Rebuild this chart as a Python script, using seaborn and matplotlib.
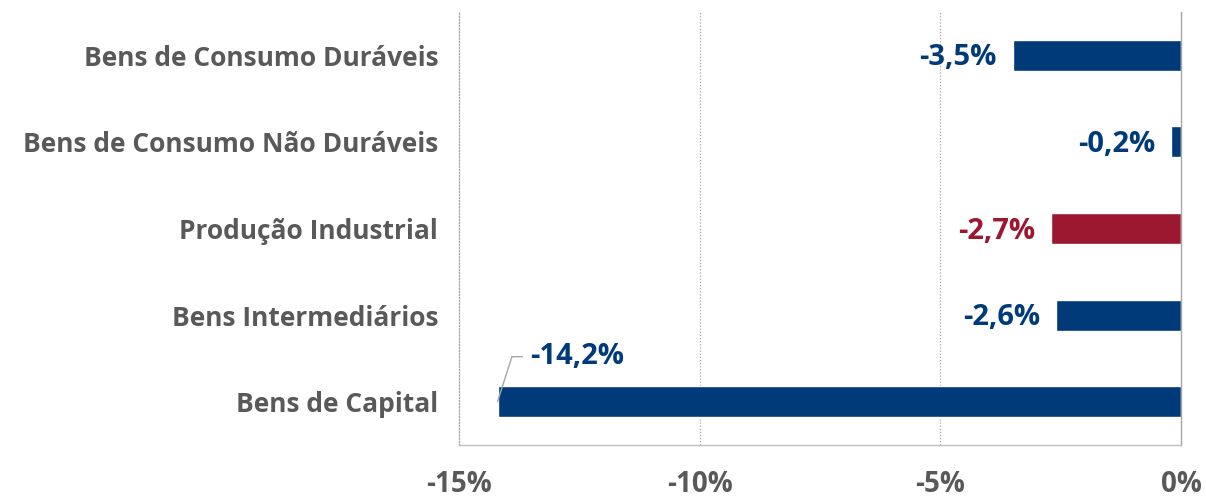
import matplotlib
matplotlib.use("Agg")
import matplotlib.pyplot as plt
import seaborn as sns
import pandas as pd

categories = ["Bens de Consumo Duráveis", "Bens de Consumo Não Duráveis",
              "Produção Industrial", "Bens Intermediários", "Bens de Capital"]
values = [-3.5, -0.2, -2.7, -2.6, -14.2]
value_labels = ["-3,5%", "-0,2%", "-2,7%", "-2,6%", "-14,2%"]
xticks = [-15, -10, -5, 0]
xtick_labels = ["-15%", "-10%", "-5%", "0%"]

BLUE = "#003A78"
RED = "#9B1830"
GREY = "#595959"
colors = [RED if c == "Produção Industrial" else BLUE for c in categories]

sns.set_theme(style="white")
plt.rcParams['font.family'] = ['Open Sans', 'DejaVu Sans']

df = pd.DataFrame({"cat": categories, "val": values})
fig = plt.figure(figsize=(12.06, 4.98), dpi=100)
ax = fig.add_axes([0.3806, 0.1064, 0.9793 - 0.3806, 0.976 - 0.1064])
sns.barplot(data=df, y="cat", x="val", hue="cat", palette=colors, legend=False,
            orient="h", width=0.36, ax=ax, saturation=1)

ax.set_xlim(-15, 0)
ax.set_ylim(4.5, -0.5)
ax.set_xticks(xticks)
ax.set_xticklabels(xtick_labels)
ax.set_xlabel("")
ax.set_ylabel("")
for x in [-10, -5]:
    ax.axvline(x, color="#A6A6A6", lw=0.9, ls=(0, (1, 1.5)), zorder=0)
ax.spines["top"].set_visible(False)
ax.spines["left"].set_color("#A6A6A6")
ax.spines["left"].set_linestyle((0, (1, 1.5)))
ax.spines["left"].set_linewidth(0.9)
ax.spines["right"].set_color("#A6A6A6")
ax.spines["right"].set_linewidth(1.0)
ax.spines["bottom"].set_color("#BFBFBF")
ax.spines["bottom"].set_linewidth(1.0)
ax.tick_params(axis="y", length=0, pad=15, labelsize=19, labelcolor=GREY)
ax.tick_params(axis="x", length=0, pad=18, labelsize=20, labelcolor=GREY)
for t in ax.get_yticklabels() + ax.get_xticklabels():
    t.set_fontweight("bold")

for i, (v, lab, col) in enumerate(zip(values, value_labels, colors)):
    if v < -10:
        ax.plot([v, v + 0.3, v + 0.52], [i, i - 0.52, i - 0.52], color="#A6A6A6", lw=1.0)
        ax.text(v + 0.68, i - 0.52, lab, color=col, fontsize=21, fontweight="bold",
                ha="left", va="center")
    else:
        ax.text(v - 0.33, i + 0.03, lab, color=col, fontsize=21, fontweight="bold",
                ha="right", va="center")

fig.savefig("out.png", dpi=100)
